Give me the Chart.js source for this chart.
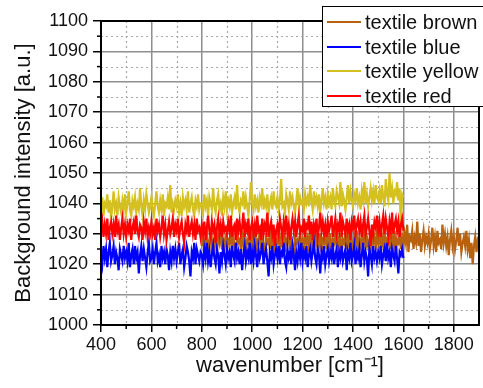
<!DOCTYPE html>
<html>
<head>
<meta charset="utf-8">
<script src="https://cdn.jsdelivr.net/npm/chart.js@4.4.1/dist/chart.umd.min.js"></script>
<style>
  html, body { margin: 0; padding: 0; background: #fff; overflow: hidden; }
  #wrap { position: relative; width: 483px; height: 388px; overflow: hidden; }
  #legend { position: absolute; left: 322px; top: 6px; width: 200px; height: 101px;
            border: 1.5px solid #000; background: #fff; box-sizing: border-box;
            font-family: 'Liberation Sans', Arial, sans-serif; font-size: 20px; color: #111; }
  .row { position: absolute; left: 0; height: 24px; line-height: 24px; white-space: nowrap; }
  .swatch { position: absolute; left: 4px; top: 11px; width: 34px; height: 0; border-top: 2px solid; }
  .label { position: absolute; left: 42px; top: 0; }
</style>
</head>
<body>
<div id="wrap">
  <canvas id="c" width="483" height="388"></canvas>
  <div id="legend"></div>
</div>
<script>
// ---------------- data ----------------
const seriesNames  = ['textile brown', 'textile blue', 'textile yellow', 'textile red'];
const seriesColors = ['#b8620f', '#0000ff', '#d4c01e', '#ff0000'];

const xStep = 5;              // wavenumber spacing of samples [cm-1]
const startMain = 400;        // start of blue / yellow / red spectra
const startBrown = 800;       // start of brown spectrum

const xMajorTicks = [400, 600, 800, 1000, 1200, 1400, 1600, 1800];
const xMinorTicks = [500, 700, 900, 1100, 1300, 1500, 1700, 1900];
const yMajorTicks = [1000, 1010, 1020, 1030, 1040, 1050, 1060, 1070, 1080, 1090, 1100];
const yMinorTicks = [1005, 1015, 1025, 1035, 1045, 1055, 1065, 1075, 1085, 1095];

const yellow = [
1038,1042,1036,1040,1039,1043,1037,1041,1035,1039,1044,1038,1040,1036,1042,1039,1037,1041,1038,1043,
1037,1040,1044,1038,1036,1041,1039,1042,1037,1040,1038,1045,1039,1036,1041,1038,1043,1040,1037,1039,
1042,1038,1036,1040,1044,1039,1037,1041,1038,1043,1036,1040,1039,1042,1038,1046,1037,1040,1038,1041,
1039,1043,1037,1040,1036,1042,1039,1041,1038,1044,1037,1040,1042,1038,1036,1041,1039,1043,1038,1040,
1040,1037,1043,1039,1041,1036,1042,1040,1038,1045,1039,1037,1041,1043,1038,1040,1036,1042,1039,1044,
1038,1041,1039,1043,1037,1040,1042,1038,1046,1039,1037,1041,1040,1044,1038,1042,1039,1036,1041,1047,
1040,1038,1043,1039,1041,1037,1042,1040,1045,1038,1041,1039,1043,1037,1040,1042,1038,1044,1040,1039,
1042,1038,1041,1048,1039,1040,1037,1043,1041,1038,1044,1040,1042,1039,1037,1041,1045,1039,1042,1040,
1041,1038,1043,1040,1042,1039,1046,1041,1038,1044,1040,1042,1039,1043,1037,1041,1045,1040,1042,1038,
1043,1040,1042,1038,1045,1041,1039,1044,1042,1040,1047,1039,1043,1041,1038,1042,1046,1040,1044,1041,
1039,1043,1041,1045,1040,1042,1038,1044,1041,1047,1040,1043,1039,1042,1045,1041,1044,1040,1046,1042,
1041,1044,1040,1046,1042,1039,1048,1043,1041,1050,1042,1045,1040,1044,1043,1047,1041,1045,1032,1043,
1042];

const red = [
1031,1034,1029,1033,1030,1035,1028,1032,1034,1030,1033,1029,1036,1031,1033,1028,1032,1035,1030,1033,
1029,1033,1031,1035,1028,1032,1034,1030,1036,1031,1029,1033,1032,1028,1034,1031,1035,1029,1032,1030,
1034,1030,1032,1028,1035,1031,1033,1029,1032,1036,1030,1033,1028,1031,1034,1030,1032,1035,1029,1033,
1031,1035,1029,1032,1034,1030,1027,1033,1031,1036,1029,1032,1034,1030,1033,1028,1035,1031,1032,1029,
1033,1030,1034,1028,1032,1036,1031,1029,1034,1031,1033,1027,1032,1035,1030,1033,1029,1034,1031,1032,
1030,1034,1031,1036,1029,1032,1033,1028,1035,1031,1034,1030,1032,1037,1029,1033,1031,1035,1028,1032,
1034,1030,1033,1029,1036,1031,1032,1028,1035,1030,1033,1031,1037,1029,1032,1034,1030,1033,1026,1031,
1033,1030,1035,1032,1029,1034,1031,1036,1030,1033,1028,1032,1035,1031,1034,1029,1033,1036,1030,1032,
1031,1035,1029,1033,1032,1036,1030,1034,1028,1033,1031,1035,1029,1032,1037,1031,1034,1030,1033,1029,
1034,1031,1033,1036,1029,1032,1035,1030,1033,1031,1037,1029,1034,1032,1030,1035,1031,1033,1028,1034,
1032,1036,1030,1033,1035,1031,1034,1029,1033,1036,1030,1032,1035,1031,1026,1033,1030,1034,1032,1036,
1031,1034,1029,1033,1036,1030,1035,1032,1029,1034,1031,1037,1030,1033,1035,1031,1034,1029,1033,1035,
1031];

const blue = [
1023,1020,1026,1022,1025,1019,1024,1027,1021,1023,1026,1020,1024,1022,1018,1025,1023,1021,1026,1022,
1024,1021,1027,1019,1023,1025,1020,1026,1022,1024,1017,1023,1026,1021,1025,1022,1019,1024,1027,1021,
1022,1025,1020,1024,1027,1021,1023,1019,1026,1022,1024,1020,1025,1023,1018,1024,1021,1026,1022,1025,
1021,1024,1027,1020,1023,1025,1019,1022,1026,1024,1021,1016,1024,1022,1027,1020,1025,1023,1021,1024,
1023,1020,1025,1022,1027,1021,1024,1019,1023,1026,1022,1020,1025,1023,1017,1024,1021,1026,1023,1020,
1025,1022,1024,1019,1026,1023,1021,1027,1022,1024,1020,1025,1018,1023,1026,1021,1024,1022,1027,1020,
1024,1021,1026,1023,1019,1025,1022,1024,1027,1020,1023,1025,1021,1016,1024,1022,1026,1020,1023,1025,
1022,1026,1020,1024,1023,1027,1021,1019,1025,1022,1024,1020,1026,1023,1018,1024,1021,1025,1022,1027,
1021,1024,1022,1026,1019,1023,1025,1021,1024,1027,1022,1020,1025,1023,1017,1024,1022,1026,1020,1023,
1025,1021,1024,1022,1027,1020,1023,1025,1019,1024,1022,1026,1021,1023,1025,1018,1024,1022,1027,1021,
1023,1026,1020,1024,1022,1025,1019,1023,1027,1021,1024,1022,1016,1025,1023,1020,1026,1022,1024,1021,
1024,1022,1026,1020,1023,1025,1021,1027,1022,1024,1019,1025,1023,1021,1026,1022,1017,1024,1023,1025,
1022];

const brown = [
1026,1029,1024,1028,1031,1025,1027,1030,1023,1028,1026,1030,1024,1029,1027,1032,1025,1028,1026,1030,
1024,1028,1027,1031,1025,1029,1026,1023,1030,1027,1028,1025,1031,1026,1029,1024,1028,1027,1032,1025,
1029,1026,1030,1024,1028,1027,1031,1025,1029,1026,1023,1030,1027,1028,1025,1032,1026,1029,1024,1028,
1027,1031,1025,1029,1026,1030,1024,1028,1027,1032,1025,1029,1026,1023,1030,1027,1028,1025,1031,1026,
1028,1025,1030,1027,1029,1024,1031,1026,1028,1025,1032,1027,1029,1026,1030,1024,1028,1027,1031,1025,
1029,1026,1030,1024,1028,1027,1032,1025,1029,1026,1030,1023,1028,1027,1031,1025,1029,1026,1030,1027,
1025,1029,1027,1031,1024,1028,1026,1030,1027,1033,1025,1029,1026,1028,1024,1031,1027,1029,1025,1030,
1027,1031,1025,1029,1026,1032,1024,1028,1027,1030,1025,1029,1026,1031,1023,1028,1027,1030,1025,1029,
1026,1030,1027,1033,1024,1029,1028,1031,1025,1029,1027,1034,1026,1030,1024,1028,1031,1026,1029,1027,
1030,1025,1028,1032,1026,1029,1024,1031,1027,1028,1025,1033,1027,1030,1026,1029,1023,1028,1031,1026,
1029,1025,1028,1032,1026,1030,1024,1027,1029,1026,1031,1025,1028,1022,1027,1020,1026,1029,1024,1028,
1027];

const seriesValues = [brown, blue, yellow, red];
const seriesStarts = [startBrown, startMain, startMain, startMain];

// ---------------- chart ----------------
const FONT = "'Liberation Sans', Arial, sans-serif";

function toPoints(values, start) {
  return values.map((v, i) => ({ x: start + i * xStep, y: v }));
}

const datasets = seriesNames.map((name, k) => ({
  label: name,
  data: toPoints(seriesValues[k], seriesStarts[k]),
  borderColor: seriesColors[k],
  backgroundColor: seriesColors[k],
  borderWidth: 2.2,
  pointRadius: 0,
  tension: 0,
  fill: false,
  order: seriesNames.length - k
}));

const decorPlugin = {
  id: 'decor',
  beforeDatasetsDraw(chart) {
    const { ctx, chartArea: a, scales: { x, y } } = chart;
    ctx.save();
    ctx.strokeStyle = '#a8a8a8';
    ctx.lineWidth = 1.2;
    ctx.setLineDash([2, 3]);
    xMinorTicks.forEach(v => {
      const px = Math.round(x.getPixelForValue(v)) + 0.5;
      if (px > a.right - 1) return;
      ctx.beginPath(); ctx.moveTo(px, a.top); ctx.lineTo(px, a.bottom); ctx.stroke();
    });
    yMinorTicks.forEach(v => {
      const py = Math.round(y.getPixelForValue(v)) + 0.5;
      ctx.beginPath(); ctx.moveTo(a.left, py); ctx.lineTo(a.right, py); ctx.stroke();
    });
    ctx.restore();
  },
  afterDatasetsDraw(chart) {
    const { ctx, chartArea: a, scales: { x, y } } = chart;
    ctx.save();
    ctx.strokeStyle = '#000';
    ctx.lineWidth = 2;
    ctx.strokeRect(a.left, a.top, a.right - a.left, a.bottom - a.top);
    ctx.lineWidth = 1.5;
    xMinorTicks.forEach(v => {
      const px = x.getPixelForValue(v);
      if (px > a.right - 1) return;
      ctx.beginPath(); ctx.moveTo(px, a.bottom); ctx.lineTo(px, a.bottom + 4); ctx.stroke();
    });
    yMinorTicks.forEach(v => {
      const py = y.getPixelForValue(v);
      ctx.beginPath(); ctx.moveTo(a.left - 4, py); ctx.lineTo(a.left, py); ctx.stroke();
    });
    ctx.restore();
  }
};

new Chart(document.getElementById('c'), {
  type: 'line',
  data: { datasets },
  options: {
    responsive: false,
    animation: false,
    events: [],
    layout: { padding: { top: 21, right: 4, left: 0, bottom: 0 } },
    plugins: { legend: { display: false }, tooltip: { enabled: false } },
    scales: {
      x: {
        type: 'linear',
        min: 400, max: 1900,
        afterFit(s) { s.height = 63; },
        afterBuildTicks(s) { s.ticks = xMajorTicks.map(v => ({ value: v })); },
        ticks: { color: '#111', font: { family: FONT, size: 18 }, padding: 2, maxRotation: 0, autoSkip: false,
                 callback: v => String(v) },
        grid: { color: '#8e8e8e', lineWidth: 1.5, tickColor: '#000', tickLength: 7, tickWidth: 1.5 },
        border: { color: '#000', width: 2 },
        title: { display: true, text: 'wavenumber [cm\u207B\u00B9]', color: '#111',
                 font: { family: FONT, size: 22 }, padding: { top: 0, bottom: 9 } }
      },
      y: {
        type: 'linear',
        min: 1000, max: 1100,
        afterFit(s) { s.width = 101; },
        afterBuildTicks(s) { s.ticks = yMajorTicks.map(v => ({ value: v })); },
        ticks: { color: '#111', font: { family: FONT, size: 18 }, padding: 5, autoSkip: false,
                 callback: v => String(v) },
        grid: { color: '#8e8e8e', lineWidth: 1.5, tickColor: '#000', tickLength: 8, tickWidth: 1.5 },
        border: { color: '#000', width: 2 },
        title: { display: true, text: 'Background intensity [a.u.]', color: '#111',
                 font: { family: FONT, size: 22 }, padding: { top: 11, bottom: 0 } }
      }
    }
  },
  plugins: [decorPlugin]
});

// ---------------- legend (HTML text) ----------------
const legend = document.getElementById('legend');
seriesNames.forEach((name, k) => {
  const row = document.createElement('div');
  row.className = 'row';
  row.style.top = (3 + k * 24.7) + 'px';
  const sw = document.createElement('div');
  sw.className = 'swatch';
  sw.style.borderTopColor = seriesColors[k];
  const lb = document.createElement('div');
  lb.className = 'label';
  lb.textContent = name;
  row.appendChild(sw); row.appendChild(lb);
  legend.appendChild(row);
});
</script>
</body>
</html>
